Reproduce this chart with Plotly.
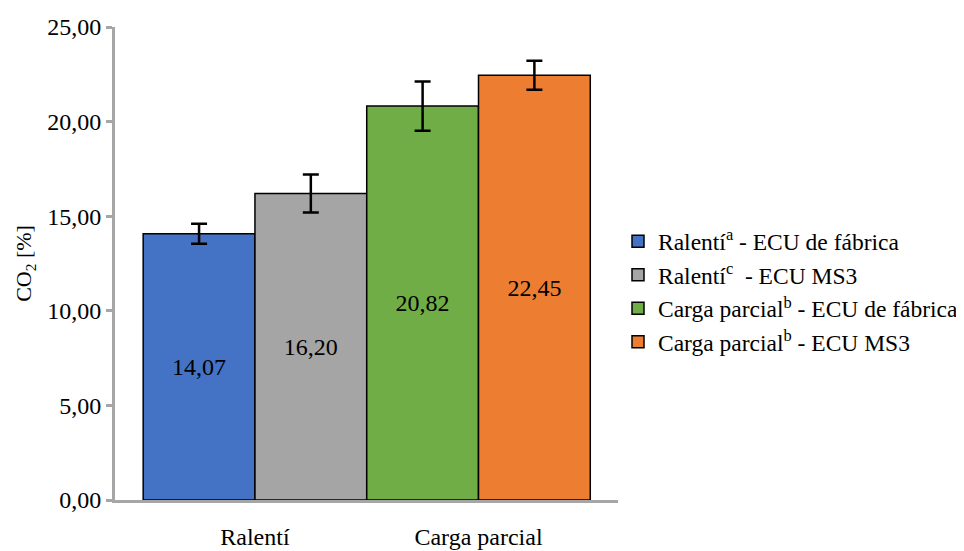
import plotly.graph_objects as go

categories = ["Ralentí", "Carga parcial"]
series_names = [
    "Ralentí<sup>a</sup> - ECU de fábrica",
    "Ralentí<sup>c</sup>\u00a0 - ECU MS3",
    "Carga parcial<sup>b</sup> - ECU de fábrica",
    "Carga parcial<sup>b</sup> - ECU MS3",
]
series_category = ["Ralentí", "Ralentí", "Carga parcial", "Carga parcial"]
values = [14.07, 16.20, 20.82, 22.45]
errors = [0.53, 1.0, 1.3, 0.77]
y_ticks = [0, 5, 10, 15, 20, 25]

colors = ["#4472C4", "#A5A5A5", "#70AD47", "#ED7D31"]
offsets = [-0.5, 0.0, -0.5, 0.0]

FONT = "Liberation Serif"

fig = go.Figure()
for i in range(4):
    fig.add_trace(go.Bar(
        name=series_names[i],
        x=[series_category[i]],
        y=[values[i]],
        width=0.5,
        offset=offsets[i],
        marker=dict(color=colors[i], line=dict(color="black", width=1.5)),
        error_y=dict(type="data", array=[errors[i]], color="black", thickness=2.5, width=8),
        texttemplate="%{y:.2f}",
        textposition="inside",
        insidetextanchor="middle",
        textangle=0,
        textfont=dict(family=FONT, size=24, color="black"),
        legendgroup=f"g{i}",
    ))

# page body adds an 8px margin, so figure coords = reference coords - 8
fig.update_layout(
    width=956, height=543,
    barmode="overlay",
    separators=",.",
    plot_bgcolor="white",
    paper_bgcolor="white",
    margin=dict(l=107, r=346, t=19, b=51, autoexpand=False),
    font=dict(family=FONT, size=24, color="black"),
    legend=dict(
        x=1.0, xanchor="left", y=0.44, yanchor="middle",
        font=dict(family=FONT, size=23.5, color="black"),
        tracegroupgap=0,
        bgcolor="rgba(0,0,0,0)",
    ),
    showlegend=True,
)
fig.update_xaxes(
    type="category",
    categoryorder="array", categoryarray=categories,
    range=[-0.626, 1.624],
    automargin=False,
    showline=True, linecolor="#A6A6A6", linewidth=3,
    ticks="outside", ticklen=13, tickcolor="rgba(0,0,0,0)",
    tickfont=dict(family=FONT, size=24, color="black"),
    showgrid=False, zeroline=False,
)
fig.update_yaxes(
    range=[0, 25],
    tickvals=y_ticks,
    tickformat=".2f",
    automargin=False,
    showline=True, linecolor="#A6A6A6", linewidth=3,
    ticks="outside", ticklen=6, tickwidth=2.5, tickcolor="#A6A6A6",
    tickfont=dict(family=FONT, size=24, color="black"),
    showgrid=False, zeroline=False,
    title=dict(text="CO<sub>2</sub> [%]", font=dict(family=FONT, size=22, color="black"), standoff=10),
)

fig.write_html("out.html")
